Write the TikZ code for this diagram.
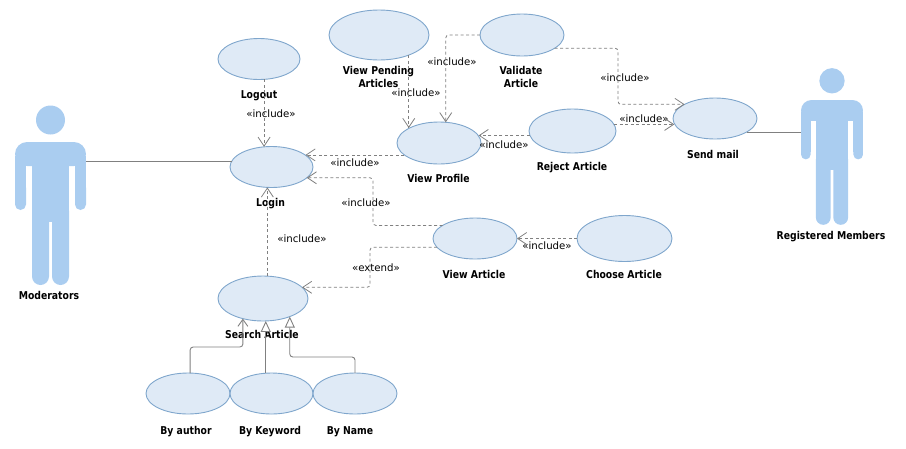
\documentclass[tikz,border=0pt]{standalone}
\usepackage{fontspec}
\usepackage{xcolor}
\usetikzlibrary{shapes.geometric,arrows.meta}
\setmainfont{DejaVu Sans}
\newfontfamily\namefont[FakeStretch=0.86]{DejaVu Sans}
\definecolor{actorblue}{HTML}{AACDF0}
\definecolor{casefill}{HTML}{DFEAF6}
\definecolor{caseline}{HTML}{7FA6CC}
\definecolor{linkgray}{HTML}{808080}
\newcommand{\actorfig}[3]{
\begin{scope}[shift={(#1,#2)},scale=#3]
\fill [actorblue] (0,-22) circle (14.5);
\fill [actorblue] (-18.5,12) rectangle (18.5,80);
\fill [actorblue,rounded corners=#3*12pt] (-35.5,24) -- (-35.5,0) -- (35.5,0) -- (35.5,24) -- cycle;
\fill [actorblue] (-35.5,14) rectangle (-24.5,60);
\fill [actorblue] (24.5,14) rectangle (35.5,60);
\fill [actorblue,rounded corners=#3*5.5pt] (-35.5,40) -- (-35.5,68) -- (-24.5,68) -- (-24.5,40) -- cycle;
\fill [actorblue,rounded corners=#3*5.5pt] (24.5,40) -- (24.5,68) -- (35.5,68) -- (35.5,40) -- cycle;
\fill [actorblue,rounded corners=#3*8.5pt] (-18.5,60) -- (-18.5,143) -- (-1.5,143) -- (-1.5,60) -- cycle;
\fill [actorblue,rounded corners=#3*8.5pt] (1.5,60) -- (1.5,143) -- (18.5,143) -- (18.5,60) -- cycle;
\fill [actorblue] (-1.6,60) rectangle (1.6,70);
\end{scope}
}
\begin{document}
\begin{tikzpicture}[x=1pt,y=-1pt]
\tikzstyle{every node}+=[inner sep=0pt]
\tikzset{
usecase/.style={ellipse,draw=caseline,fill=casefill,line width=0.9pt,outer sep=0pt},
casetwo/.style={font=\namefont\bfseries\fontsize{10.8pt}{13pt}\selectfont,align=center,text=black},
casename/.style={casetwo,text height=8pt,text depth=2pt,yshift=-1pt},
linklabel/.style={font=\fontsize{10.2pt}{12pt}\selectfont,text=black},
plainlink/.style={linkgray,line width=0.9pt},
dashlink/.style={linkgray,line width=0.8pt,dash pattern=on 3pt off 2.5pt,rounded corners=3pt,-{Straight Barb[length=9pt,width=12pt,line width=0.8pt]}},
genlink/.style={linkgray,line width=0.9pt,rounded corners=3pt},
}
\useasboundingbox (0,0) rectangle (906,448);
\actorfig{50.5}{142}{1}
\actorfig{832}{100}{0.873}
\coordinate (moderators) at (86,161);
\coordinate (registered) at (801,132);
\node [usecase,minimum width=82pt,minimum height=41pt] (logout) at (259,59) {};
\node [usecase,minimum width=83pt,minimum height=41pt] (login) at (271.5,167) {};
\node [usecase,minimum width=90pt,minimum height=45pt] (search) at (263,298.5) {};
\node [usecase,minimum width=84pt,minimum height=41pt] (byauthor) at (188,393.5) {};
\node [usecase,minimum width=83pt,minimum height=41pt] (bykeyword) at (271.5,393.5) {};
\node [usecase,minimum width=84pt,minimum height=41pt] (byname) at (355,393.5) {};
\node [usecase,minimum width=100pt,minimum height=50pt] (pending) at (379,35) {};
\node [usecase,minimum width=84pt,minimum height=42pt] (validate) at (522,35) {};
\node [usecase,minimum width=84pt,minimum height=42pt] (profile) at (439,143) {};
\node [usecase,minimum width=87pt,minimum height=44pt] (reject) at (572.5,131) {};
\node [usecase,minimum width=84pt,minimum height=41pt] (sendmail) at (715,118.5) {};
\node [usecase,minimum width=84pt,minimum height=41pt] (article) at (475,238.5) {};
\node [usecase,minimum width=95pt,minimum height=46pt] (choose) at (624.5,238.5) {};
\node [casename] (logouttxt) at (259,94) {Logout};
\node [casename] (logintxt) at (270.5,202) {Login};
\node [casename] (moderatorstxt) at (49,295) {Moderators};
\node [casename] (registeredtxt) at (831,235) {Registered Members};
\node [casename] (searchtxt) at (262,334) {Search Article};
\node [casename] (byauthortxt) at (186,430) {By author};
\node [casename] (bykeywordtxt) at (270,430) {By Keyword};
\node [casename] (bynametxt) at (350,430) {By Name};
\node [casetwo] (pendingtxt) at (378.5,77) {View Pending\\Articles};
\node [casetwo] (validatetxt) at (521,77) {Validate\\Article};
\node [casename] (profiletxt) at (438.5,178) {View Profile};
\node [casename] (rejecttxt) at (572,166) {Reject Article};
\node [casename] (sendmailtxt) at (713,154) {Send mail};
\node [casename] (articletxt) at (474,274) {View Article};
\node [casename] (choosetxt) at (624,274) {Choose Article};
\node [linklabel] (inclogout) at (271,114) {«include»};
\node [linklabel] (incvalidate) at (452,62) {«include»};
\node [linklabel] (incpending) at (416,93) {«include»};
\node [linklabel] (increject) at (504,145) {«include»};
\node [linklabel] (incprofile) at (355,163) {«include»};
\node [linklabel] (incmail) at (625,78) {«include»};
\node [linklabel] (incsend) at (644,119) {«include»};
\node [linklabel] (incarticle) at (366,203) {«include»};
\node [linklabel] (incsearch) at (302,239) {«include»};
\node [linklabel] (extarticle) at (376,268) {«extend»};
\node [linklabel] (incchoose) at (547,246) {«include»};
\coordinate (bendmail) at (618,76);
\coordinate (bendarticle) at (373,200);
\coordinate (bendextend) at (370,268);
\coordinate (bendauthor) at (216,347);
\coordinate (bendname) at (322,357);
\draw [plainlink] (moderators) -- (moderators -| login.171.4);
\draw [plainlink] (registered -| sendmail.-23.1) -- (registered);
\draw [dashlink] (logout.284) -- (logout.284 |- login.110.4);
\draw [dashlink] (pending.326.3) -- (pending.326.3 |- profile.153.9);
\draw [dashlink] (validate.west) -| (profile.72.6);
\draw [dashlink] (validate.338.5) -| (bendmail) |- (sendmail.155.5);
\draw [dashlink] (reject.186.7) -- (profile.10 |- reject.186.7);
\draw [dashlink] (reject.9.6) -- (sendmail.187 |- reject.9.6);
\draw [dashlink] (profile.199.2) -- (login.19.6 |- profile.199.2);
\draw [dashlink] (article.158.2) -| (bendarticle) |- (login.-17.4);
\draw [dashlink] (article.193.4) -| (bendextend) |- (search.16.5);
\draw [dashlink] (choose.west) -- (article.east);
\draw [dashlink] (search.79.9) -- (search.79.9 |- login.257.6);
\draw [genlink,-{Straight Barb[length=7pt,width=10pt,line width=0.9pt]}] (byauthor.84.4) |- (bendauthor) -| (search.225.3);
\draw [genlink,-{Triangle[open,length=11pt,width=10pt,fill=white,line width=0.9pt]}] (search.277.6 |- bykeyword.105.2) -- (search.277.6);
\draw [genlink,-{Triangle[open,length=11pt,width=10pt,fill=white,line width=0.9pt]}] (byname.north) |- (bendname) -| (search.326.3);
\end{tikzpicture}
\end{document}
